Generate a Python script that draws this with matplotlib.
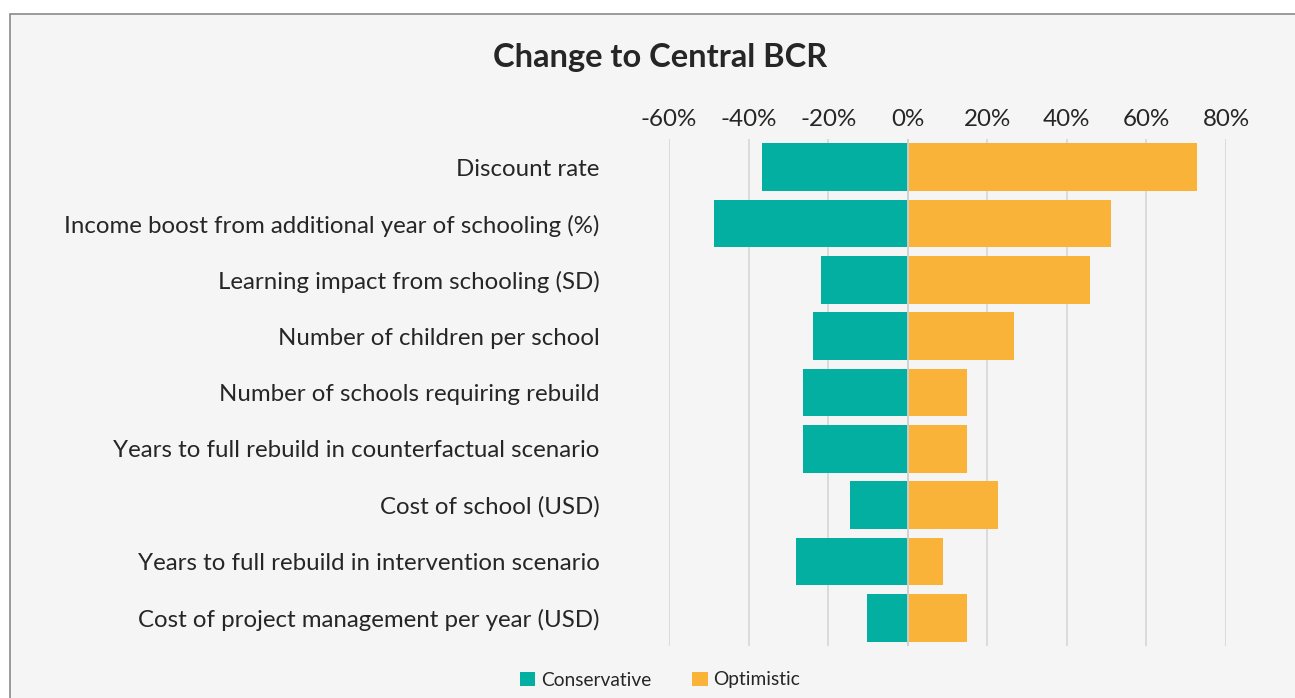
import matplotlib.pyplot as plt
import numpy as np
from matplotlib.patches import Rectangle
from matplotlib.ticker import FuncFormatter

plt.rcParams['font.family'] = ['Lato', 'DejaVu Sans']

categories = ['Discount rate',
              'Income boost from additional year of schooling (%)',
              'Learning impact from schooling (SD)',
              'Number of children per school',
              'Number of schools requiring rebuild',
              'Years to full rebuild in counterfactual scenario',
              'Cost of school (USD)',
              'Years to full rebuild in intervention scenario',
              'Cost of project management per year (USD)']
conservative = [-36.7, -48.7, -21.9, -23.9, -26.4, -26.4, -14.6, -28.1, -10.3]
optimistic = [72.6, 51.0, 45.7, 26.6, 14.8, 14.8, 22.6, 8.8, 14.8]
xticks = [-60, -40, -20, 0, 20, 40, 60, 80]

teal = '#02afa0'
orange = '#f9b339'
bg = '#f4f5f4'

fig = plt.figure(figsize=(12.95, 6.98), dpi=100)
fig.patch.set_facecolor('white')
# chart frame
fig.patches.append(Rectangle((10/1295, -0.01), 1.02, 1 - 14/698 + 0.01,
                             transform=fig.transFigure, facecolor=bg,
                             edgecolor='#8a8a8a', linewidth=1.2, zorder=-1))

ax = fig.add_axes([669/1295, 1 - 646/698, (1226-669)/1295, (646-139)/698])
ax.set_facecolor('none')
ax.set_zorder(2)

y = np.arange(len(categories))
ax.barh(y, conservative, height=0.85, color=teal, label='Conservative', zorder=3)
ax.barh(y, optimistic, height=0.85, color=orange, label='Optimistic', zorder=3)

ax.set_xlim(-60, 80)
ax.set_ylim(len(categories) - 0.5, -0.5)
ax.set_xticks(xticks)
ax.xaxis.set_major_formatter(FuncFormatter(lambda v, p: f'{v:.0f}%'))
ax.xaxis.tick_top()
ax.tick_params(axis='x', length=0, labelsize=17.4, labelcolor='#262626', pad=6.5)
ax.set_yticks(y)
ax.set_yticklabels(categories)
ax.tick_params(axis='y', length=0, labelsize=17.3, labelcolor='#262626', pad=50)
ax.grid(axis='x', color='#d9d9d9', linewidth=1.3, zorder=0)
ax.axvline(0, color='#d0d0d0', linewidth=1.3, zorder=4)
for s in ax.spines.values():
    s.set_visible(False)

fig.text(660/1295, 1 - 58/698, 'Change to Central BCR', ha='center', va='center',
         fontsize=23.5, fontweight='bold', color='#262626')

fig.legend(loc='center', bbox_to_anchor=(660/1295, 1 - 680/698), ncol=2,
           frameon=False, fontsize=13.8, handlelength=0.8, handleheight=0.8,
           handletextpad=0.3, columnspacing=2.15, labelcolor='#262626')

fig.savefig('out.png', dpi=100, facecolor=fig.get_facecolor())
